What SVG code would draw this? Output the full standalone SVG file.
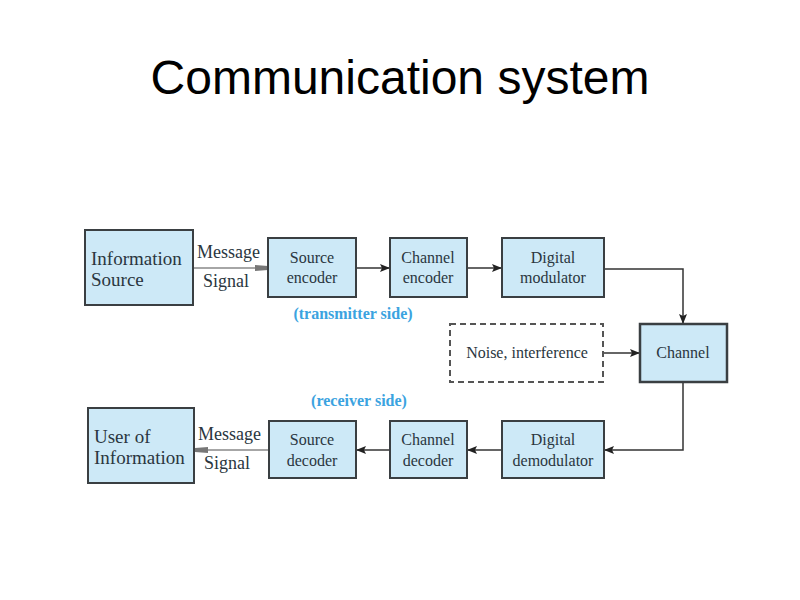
<svg xmlns="http://www.w3.org/2000/svg" width="800" height="600" viewBox="0 0 800 600">
<defs>
<style>
.box{fill:#cde9f7;stroke:#3a3f42;stroke-width:2}
.ch{fill:#cde9f7;stroke:#3a3f42;stroke-width:2.5}
.noise{fill:#ffffff;stroke:#555;stroke-width:2;stroke-dasharray:6,4}
.t{font-family:"Liberation Serif","Times New Roman",serif;font-size:16px;fill:#2a3640;text-anchor:middle}
.tl{font-family:"Liberation Serif","Times New Roman",serif;font-size:19px;fill:#2a3640}
.ml{font-family:"Liberation Serif","Times New Roman",serif;font-size:18px;fill:#2a3640}
.side{font-family:"Liberation Serif","Times New Roman",serif;font-size:16px;font-weight:bold;fill:#3ba3e0;text-anchor:middle}
.title{font-family:"Liberation Sans",Arial,sans-serif;font-size:48px;fill:#000;text-anchor:middle}
.ln{fill:none;stroke:#333;stroke-width:1.5}
.gl{fill:none;stroke:#888;stroke-width:1.5}
</style>
<marker id="ah" markerWidth="10" markerHeight="8" refX="9" refY="4" orient="auto" markerUnits="userSpaceOnUse">
<path d="M0,0 L10,4 L0,8 L2,4 Z" fill="#222"/>
</marker>
<marker id="gh" markerWidth="14" markerHeight="8" refX="13" refY="4" orient="auto" markerUnits="userSpaceOnUse">
<path d="M0,1 L13,2 L13,6 L0,7 Z" fill="#777"/>
</marker>
</defs>
<rect width="800" height="600" fill="#fff"/>
<text class="title" x="400" y="94">Communication system</text>

<g id="connectors">
<line class="gl" x1="193" y1="268" x2="268" y2="268" marker-end="url(#gh)"/>
<line class="ln" x1="356" y1="268" x2="389" y2="268" marker-end="url(#ah)"/>
<line class="ln" x1="467" y1="268" x2="501" y2="268" marker-end="url(#ah)"/>
<polyline class="ln" points="604,269 683,269 683,323" marker-end="url(#ah)"/>
<line class="ln" x1="603" y1="353" x2="639" y2="353" marker-end="url(#ah)"/>
<polyline class="ln" points="683,382 683,450 605,450" marker-end="url(#ah)"/>
<line class="ln" x1="502" y1="450" x2="468" y2="450" marker-end="url(#ah)"/>
<line class="ln" x1="390" y1="450" x2="357" y2="450" marker-end="url(#ah)"/>
<line class="gl" x1="269" y1="450" x2="195" y2="450" marker-end="url(#gh)"/>
</g>

<g id="info-source">
<rect class="box" x="85" y="230" width="108" height="75"/>
<text class="tl" x="91" y="265">Information</text>
<text class="tl" x="91" y="286">Source</text>
</g>
<g id="msg-top">
<text class="ml" x="197" y="258">Message</text>
<text class="ml" x="203" y="287">Signal</text>
</g>
<g id="source-encoder">
<rect class="box" x="268" y="238" width="88" height="59"/>
<text class="t" x="312" y="263">Source</text>
<text class="t" x="312" y="283">encoder</text>
</g>
<g id="channel-encoder">
<rect class="box" x="390" y="238" width="77" height="59"/>
<text class="t" x="428" y="263">Channel</text>
<text class="t" x="428" y="283">encoder</text>
</g>
<g id="digital-modulator">
<rect class="box" x="502" y="238" width="102" height="59"/>
<text class="t" x="553" y="263">Digital</text>
<text class="t" x="553" y="283">modulator</text>
</g>
<text class="side" x="353" y="319">(transmitter side)</text>
<g id="noise">
<rect class="noise" x="450" y="324" width="153" height="58"/>
<text class="t" x="527" y="358">Noise, interference</text>
</g>
<g id="channel">
<rect class="ch" x="640" y="324" width="87" height="58"/>
<text class="t" x="683" y="358">Channel</text>
</g>
<text class="side" x="359" y="406">(receiver side)</text>
<g id="user">
<rect class="box" x="88" y="408" width="106" height="75"/>
<text class="tl" x="94" y="443">User of</text>
<text class="tl" x="94" y="464">Information</text>
</g>
<g id="msg-bottom">
<text class="ml" x="198" y="440">Message</text>
<text class="ml" x="204" y="469">Signal</text>
</g>
<g id="source-decoder">
<rect class="box" x="269" y="421" width="87" height="57"/>
<text class="t" x="312" y="445">Source</text>
<text class="t" x="312" y="466">decoder</text>
</g>
<g id="channel-decoder">
<rect class="box" x="390" y="421" width="77" height="57"/>
<text class="t" x="428" y="445">Channel</text>
<text class="t" x="428" y="466">decoder</text>
</g>
<g id="digital-demodulator">
<rect class="box" x="502" y="421" width="102" height="57"/>
<text class="t" x="553" y="445">Digital</text>
<text class="t" x="553" y="466">demodulator</text>
</g>
</svg>
